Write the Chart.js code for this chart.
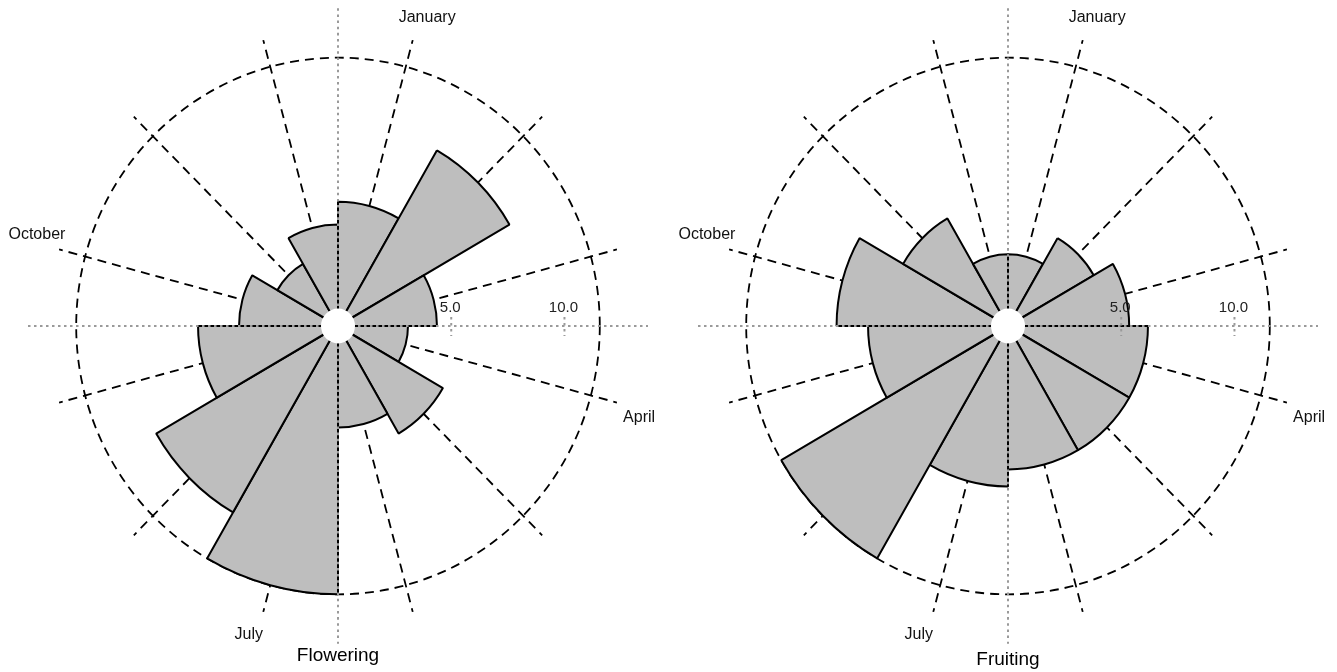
<!DOCTYPE html>
<html><head><meta charset="utf-8">
<script src="https://cdn.jsdelivr.net/npm/chart.js@4/dist/chart.umd.min.js"></script>
<style>
html,body{margin:0;padding:0;background:#fff;width:1337px;height:672px;overflow:hidden}
.box{position:absolute;top:0;height:672px}
#b1{left:0;width:670px}
#b2{left:670px;width:667px}
canvas{display:block}
</style></head><body>
<div class="box" id="b1"><canvas id="c1" width="670" height="672"></canvas></div>
<div class="box" id="b2"><canvas id="c2" width="667" height="672"></canvas></div>
<script>
// ---- data (radius values read on the radial axis) ----
const months = ['January','February','March','April','May','June','July','August','September','October','November','December'];
const shownMonths = ['January','April','July','October'];
const flowering = [5.35, 8.74, 4.37, 3.09, 5.35, 4.37, 11.56, 9.27, 6.18, 4.37, 3.09, 4.37];
const fruiting  = [3.09, 4.37, 5.35, 6.18, 6.18, 6.18, 6.91, 11.56, 6.18, 7.57, 5.35, 3.09];
const radialTicks = [5, 10];
const tickLabels = ['5.0', '10.0'];
const outerRing = 11.56;
const titles = ['Flowering', 'Fruiting'];

// ---- styling ----
const R_MAX = 14.13;      // scale max so 1 unit ~ 22.65 px
const YSTRETCH = 1.025;   // slightly taller than wide, as in the reference
const FONT = "'Liberation Sans', Arial, Helvetica, sans-serif";

function rosePlugin(title, titleY) {
  return {
    id: 'rose',
    beforeDraw(chart) {
      const s = chart.scales.r, ctx = chart.ctx;
      ctx.save();
      ctx.translate(s.xCenter, s.yCenter);
      ctx.scale(1, YSTRETCH);
      ctx.translate(-s.xCenter, -s.yCenter);
    },
    beforeDatasetsDraw(chart) {
      const s = chart.scales.r, ctx = chart.ctx;
      const xc = s.xCenter, yc = s.yCenter;
      ctx.save();
      ctx.strokeStyle = '#000';
      ctx.lineWidth = 1.8;
      ctx.setLineDash([9, 6]);
      // outer dashed ring
      ctx.beginPath();
      ctx.arc(xc, yc, s.getDistanceFromCenterForValue(outerRing), 0, Math.PI * 2);
      ctx.stroke();
      // radial dashed lines at mid-sector angles
      const len = s.getDistanceFromCenterForValue(12.75);
      for (let i = 0; i < months.length; i++) {
        const a = s.getIndexAngle(i) + Math.PI / months.length - Math.PI / 2;
        ctx.beginPath();
        ctx.moveTo(xc, yc);
        ctx.lineTo(xc + Math.cos(a) * len, yc + Math.sin(a) * len);
        ctx.stroke();
      }
      ctx.restore();
    },
    afterDatasetsDraw(chart) {
      const s = chart.scales.r, ctx = chart.ctx;
      const xc = s.xCenter, yc = s.yCenter;
      ctx.save();
      // dotted grey axes
      const L = 310;
      ctx.strokeStyle = '#9a9a9a';
      ctx.lineWidth = 2;
      ctx.setLineDash([2.5, 3.5]);
      ctx.beginPath();
      ctx.moveTo(xc - L, yc); ctx.lineTo(xc + L, yc);
      ctx.moveTo(xc, yc - L); ctx.lineTo(xc, yc + L);
      ctx.stroke();
      // white hole
      ctx.setLineDash([]);
      ctx.fillStyle = '#fff';
      ctx.beginPath();
      ctx.arc(xc, yc, 17, 0, Math.PI * 2);
      ctx.fill();
      ctx.restore();
    },
    afterDraw(chart) {
      const s = chart.scales.r, ctx = chart.ctx;
      ctx.restore(); // undo stretch
      const xc = s.xCenter, yc = s.yCenter;
      ctx.save();
      // tick marks and labels on horizontal axis
      ctx.strokeStyle = '#9a9a9a';
      ctx.lineWidth = 2;
      ctx.setLineDash([2.5, 3.5]);
      ctx.fillStyle = '#222';
      ctx.font = '15px ' + FONT;
      ctx.textAlign = 'center';
      ctx.textBaseline = 'alphabetic';
      radialTicks.forEach((v, i) => {
        const x = xc + s.getDistanceFromCenterForValue(v);
        ctx.beginPath();
        ctx.moveTo(x, yc - 9); ctx.lineTo(x, yc + 10);
        ctx.stroke();
        ctx.fillText(tickLabels[i], x - 1, yc - 14);
      });
      // month labels
      ctx.fillStyle = '#111';
      ctx.font = '16px ' + FONT;
      ctx.textBaseline = 'middle';
      shownMonths.forEach(m => {
        const idx = months.indexOf(m);
        const a = s.getIndexAngle(idx) + 16.5 * Math.PI / 180 - Math.PI / 2;
        const r = 314;
        ctx.fillText(m, xc + Math.cos(a) * r, yc + Math.sin(a) * r * YSTRETCH);
      });
      // title
      ctx.fillStyle = '#000';
      ctx.font = '19px ' + FONT;
      ctx.fillText(title, xc, titleY);
      ctx.restore();
    }
  };
}

function makeChart(id, values, title, titleY, rightPad, bottomPad) {
  new Chart(document.getElementById(id), {
    type: 'polarArea',
    data: {
      labels: months,
      datasets: [{
        data: values,
        backgroundColor: '#bebebe',
        borderColor: '#000',
        borderWidth: 2,
        clip: false
      }]
    },
    options: {
      responsive: false,
      animation: false,
      layout: { padding: { left: 18, top: 6, right: rightPad, bottom: bottomPad } },
      plugins: { legend: { display: false }, tooltip: { enabled: false } },
      scales: {
        r: {
          min: 0, max: R_MAX, startAngle: 0,
          ticks: { display: false },
          grid: { display: false },
          angleLines: { display: false },
          pointLabels: { display: false }
        }
      }
    },
    plugins: [rosePlugin(title, titleY)]
  });
}
makeChart('c1', flowering, titles[0], 656, 12, 26);
makeChart('c2', fruiting, titles[1], 660, 9, 26);
</script>
</body></html>
